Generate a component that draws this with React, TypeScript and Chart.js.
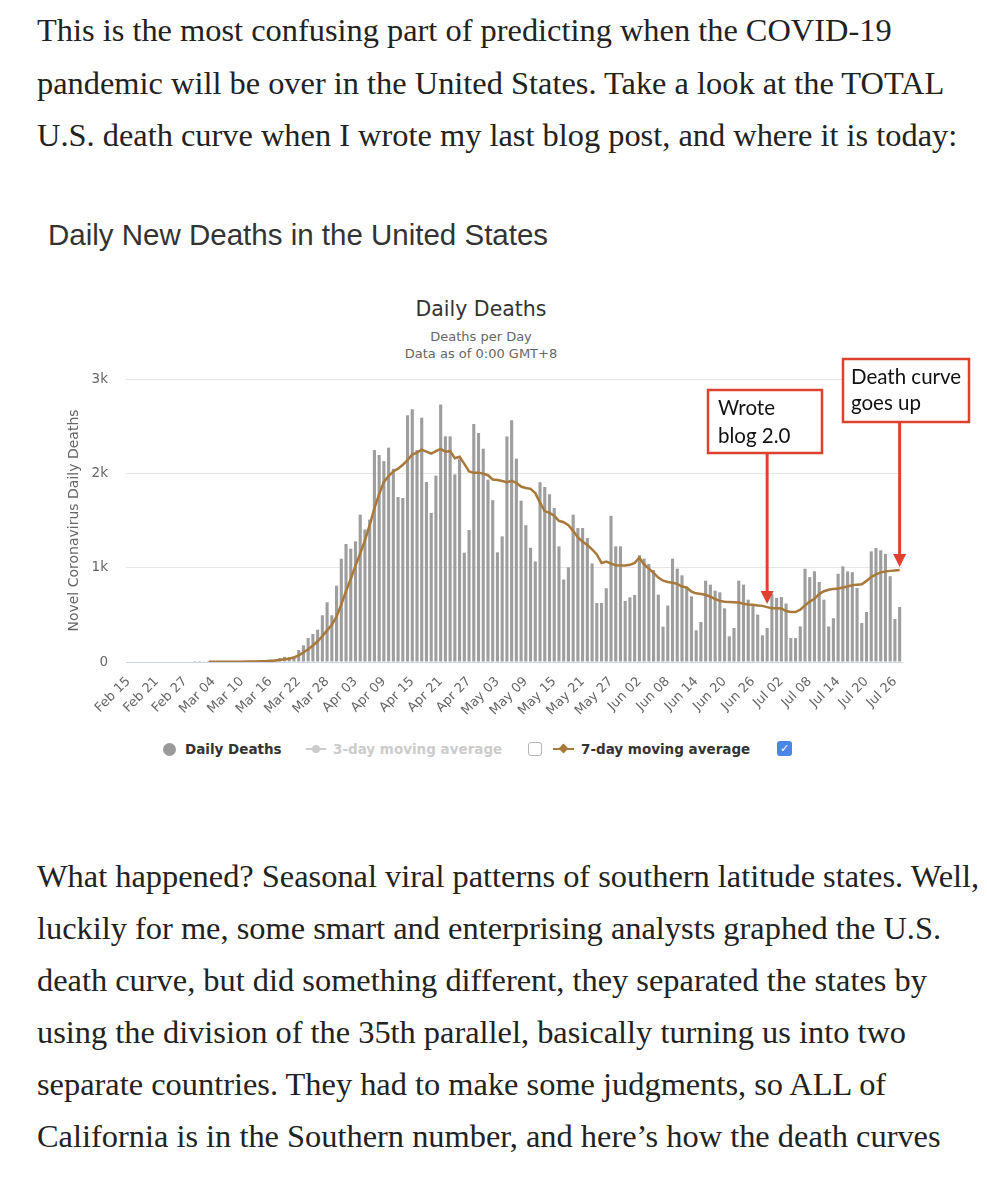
import React, { useEffect, useRef } from "react";
import { Chart, registerables } from "chart.js";

Chart.register(...registerables);

// ---------- DATA ----------
const DATES: string[] = [
  "Feb 15","Feb 16","Feb 17","Feb 18","Feb 19","Feb 20","Feb 21","Feb 22","Feb 23","Feb 24","Feb 25","Feb 26","Feb 27","Feb 28","Feb 29",
  "Mar 01","Mar 02","Mar 03","Mar 04","Mar 05","Mar 06","Mar 07","Mar 08","Mar 09","Mar 10","Mar 11","Mar 12","Mar 13","Mar 14","Mar 15","Mar 16","Mar 17","Mar 18","Mar 19","Mar 20","Mar 21","Mar 22","Mar 23","Mar 24","Mar 25","Mar 26","Mar 27","Mar 28","Mar 29","Mar 30","Mar 31",
  "Apr 01","Apr 02","Apr 03","Apr 04","Apr 05","Apr 06","Apr 07","Apr 08","Apr 09","Apr 10","Apr 11","Apr 12","Apr 13","Apr 14","Apr 15","Apr 16","Apr 17","Apr 18","Apr 19","Apr 20","Apr 21","Apr 22","Apr 23","Apr 24","Apr 25","Apr 26","Apr 27","Apr 28","Apr 29","Apr 30",
  "May 01","May 02","May 03","May 04","May 05","May 06","May 07","May 08","May 09","May 10","May 11","May 12","May 13","May 14","May 15","May 16","May 17","May 18","May 19","May 20","May 21","May 22","May 23","May 24","May 25","May 26","May 27","May 28","May 29","May 30","May 31",
  "Jun 01","Jun 02","Jun 03","Jun 04","Jun 05","Jun 06","Jun 07","Jun 08","Jun 09","Jun 10","Jun 11","Jun 12","Jun 13","Jun 14","Jun 15","Jun 16","Jun 17","Jun 18","Jun 19","Jun 20","Jun 21","Jun 22","Jun 23","Jun 24","Jun 25","Jun 26","Jun 27","Jun 28","Jun 29","Jun 30",
  "Jul 01","Jul 02","Jul 03","Jul 04","Jul 05","Jul 06","Jul 07","Jul 08","Jul 09","Jul 10","Jul 11","Jul 12","Jul 13","Jul 14","Jul 15","Jul 16","Jul 17","Jul 18","Jul 19","Jul 20","Jul 21","Jul 22","Jul 23","Jul 24","Jul 25","Jul 26","Jul 27",
];

const TICK_LABELS: string[] = [
  "Feb 15","Feb 21","Feb 27","Mar 04","Mar 10","Mar 16","Mar 22","Mar 28","Apr 03","Apr 09","Apr 15","Apr 21","Apr 27","May 03",
  "May 09","May 15","May 21","May 27","Jun 02","Jun 08","Jun 14","Jun 20","Jun 26","Jul 02","Jul 08","Jul 14","Jul 20","Jul 26",
];

const Y_TICKS: number[] = [0, 1000, 2000, 3000];
const Y_TICK_LABELS: string[] = ["0", "1k", "2k", "3k"];

const DAILY_DEATHS: number[] = [
  0,0,0,0,0,0,0,0,0,0,0,0,0,0,1,
  1,4,1,4,1,2,3,4,4,6,8,7,10,12,11,23,25,
  42,55,53,60,127,177,254,297,343,495,633,495,809,1095,1251,1201,1279,1562,1405,1509,
  2247,2194,2130,2272,2049,1749,1739,2615,2680,2247,2590,1908,1580,1975,2731,2392,2392,1989,2150,
  1159,1399,2523,2428,2261,1933,1715,1162,1332,2392,2563,2155,1710,1450,1211,1066,1906,1855,1778,1632,
  1226,874,1004,1562,1420,1420,1315,1045,625,625,782,1550,1226,1226,648,685,710,1132,1096,1040,
  975,714,375,598,1096,990,919,784,696,336,424,862,820,756,739,569,272,360,862,820,
  661,608,502,283,360,724,680,688,620,254,254,377,989,900,961,848,661,377,465,936,
  1014,961,952,784,413,530,1173,1208,1184,1146,910,456,583,
];

const AVG_7DAY: (number | null)[] = [
  null,null,null,null,null,null,null,null,null,null,null,null,null,null,null,null,null,
  2,2,2,2,2,3,3,3,4,5,6,8,9,12,15,
  22,28,35,48,70,100,135,175,220,275,335,395,480,610,750,880,1020,1150,1290,1450,
  1630,1780,1910,1970,2020,2050,2090,2140,2200,2220,2250,2230,2210,2235,2260,2230,2235,2160,2175,
  2100,2020,2005,2005,1997,1980,1935,1930,1918,1905,1920,1898,1860,1845,1835,1790,1690,1600,1580,1550,
  1497,1482,1450,1390,1320,1275,1240,1195,1140,1050,1065,1042,1025,1022,1022,1030,1050,1105,1033,990,
  945,895,862,848,840,828,800,790,745,728,720,712,692,668,648,638,636,634,630,618,
  610,606,600,595,582,570,570,568,540,530,530,555,600,640,670,720,750,765,775,780,
  790,800,815,820,825,860,900,930,950,960,966,970,975,
];

const ANNOTATIONS = [
  { lines: ["Wrote", "blog 2.0"], date: "Jun 29" },
  { lines: ["Death curve", "goes up"], date: "Jul 27" },
];

// ---------- LAYOUT (non-data) ----------
const ANN_BOXES = [
  { x: 700, y: 110, w: 114, h: 63, tx: 710, ty: [135, 163] },
  { x: 835, y: 79, w: 126, h: 63, tx: 843, ty: [104, 130] },
];

const P1 = [
  "This is the most confusing part of predicting when the COVID-19",
  "pandemic will be over in the United States. Take a look at the TOTAL",
  "U.S. death curve when I wrote my last blog post, and where it is today:",
];
const P2 = [
  "What happened? Seasonal viral patterns of southern latitude states. Well,",
  "luckily for me, some smart and enterprising analysts graphed the U.S.",
  "death curve, but did something different, they separated the states by",
  "using the division of the 35th parallel, basically turning us into two",
  "separate countries. They had to make some judgments, so ALL of",
  "California is in the Southern number, and here\u2019s how the death curves",
];

const RED = "#e0412f";

const annotationPlugin = {
  id: "blogAnnotations",
  afterDraw(chart: any) {
    const ctx = chart.ctx;
    const xs = chart.scales.x;
    const ys = chart.scales.y;
    ctx.save();
    ANNOTATIONS.forEach((a, k) => {
      const b = ANN_BOXES[k];
      const idx = DATES.indexOf(a.date);
      const px = xs.getPixelForValue(idx);
      const py = ys.getPixelForValue(AVG_7DAY[idx] as number) - 3;
      ctx.fillStyle = "#ffffff";
      ctx.fillRect(b.x, b.y, b.w, b.h);
      ctx.strokeStyle = RED;
      ctx.lineWidth = 2.5;
      ctx.strokeRect(b.x, b.y, b.w, b.h);
      ctx.fillStyle = "#111";
      ctx.font = "20.5px Lato, 'Open Sans', sans-serif";
      ctx.textAlign = "left";
      ctx.textBaseline = "alphabetic";
      a.lines.forEach((t, j) => ctx.fillText(t, b.tx, b.ty[j]));
      ctx.strokeStyle = RED;
      ctx.lineWidth = 3;
      ctx.beginPath();
      ctx.moveTo(px, b.y + b.h);
      ctx.lineTo(px, py - 11);
      ctx.stroke();
      ctx.fillStyle = RED;
      ctx.beginPath();
      ctx.moveTo(px - 6.5, py - 13);
      ctx.lineTo(px + 6.5, py - 13);
      ctx.lineTo(px, py);
      ctx.closePath();
      ctx.fill();
    });
    ctx.restore();
  },
};

function DeathsChart() {
  const ref = useRef<HTMLCanvasElement | null>(null);
  useEffect(() => {
    if (!ref.current) return;
    const chart = new Chart(ref.current, {
      type: "bar",
      data: {
        labels: DATES,
        datasets: [
          {
            type: "line",
            label: "7-day moving average",
            data: AVG_7DAY,
            borderColor: "#a8793a",
            borderWidth: 2.5,
            pointRadius: 0,
            tension: 0,
            order: 0,
          } as any,
          {
            type: "bar",
            label: "Daily Deaths",
            data: DAILY_DEATHS,
            backgroundColor: "#9e9e9e",
            barPercentage: 0.66,
            categoryPercentage: 1,
            order: 1,
          },
        ],
      },
      options: {
        animation: false,
        responsive: false,
        devicePixelRatio: 1,
        layout: { padding: { left: 53, top: 99, right: 77, bottom: 0 } },
        plugins: {
          legend: { display: false },
          tooltip: { enabled: false },
          title: { display: false },
        },
        scales: {
          x: {
            type: "category",
            grid: { display: false, drawTicks: false },
            border: { display: true, color: "#ccd6eb", width: 1 },
            ticks: {
              autoSkip: false,
              minRotation: 45,
              maxRotation: 45,
              padding: 12,
              color: "#666",
              font: { family: "DejaVu Sans", size: 13 },
              callback: (_v: any, i: number) => (TICK_LABELS.includes(DATES[i]) ? DATES[i] : ""),
            },
            afterFit: (s: any) => {
              s.height = 58;
            },
          },
          y: {
            min: 0,
            max: 3000,
            afterBuildTicks: (s: any) => {
              s.ticks = Y_TICKS.map((v) => ({ value: v }));
            },
            grid: { color: "#e6e6e6", drawTicks: false },
            border: { display: false },
            ticks: {
              padding: 18,
              color: "#666",
              font: { family: "DejaVu Sans", size: 13.5 },
              callback: (v: any) => Y_TICK_LABELS[Y_TICKS.indexOf(Number(v))] ?? "",
            },
            title: {
              display: true,
              text: "Novel Coronavirus Daily Deaths",
              color: "#666",
              font: { family: "DejaVu Sans", size: 14 },
              padding: { top: 5, bottom: 4 },
            },
            afterFit: (s: any) => {
              s.width = 65;
            },
          },
        },
      },
      plugins: [annotationPlugin],
    });
    return () => chart.destroy();
  }, []);
  return <canvas ref={ref} width={971} height={440} style={{ position: "absolute", left: 0, top: 272 }} />;
}

const serif: React.CSSProperties = {
  position: "absolute",
  left: 29,
  whiteSpace: "nowrap",
  fontFamily: "'Liberation Serif', 'Times New Roman', serif",
  fontSize: 32.4,
  lineHeight: "52px",
  color: "#222",
};

const legendText: React.CSSProperties = {
  position: "absolute",
  top: 731,
  whiteSpace: "nowrap",
  fontFamily: "'DejaVu Sans', sans-serif",
  fontWeight: "bold",
  fontSize: 13.5,
  lineHeight: "20px",
};

export default function App() {
  return (
    <div style={{ position: "relative", width: 971, height: 1192, overflow: "hidden", background: "#fff" }}>
      {P1.map((t, i) => (
        <div key={"p1" + i} style={{ ...serif, top: -4 + i * 52.5 }}>{t}</div>
      ))}
      <div
        style={{
          position: "absolute",
          left: 40,
          top: 210,
          whiteSpace: "nowrap",
          fontFamily: "'Liberation Sans', Arial, sans-serif",
          fontSize: 29.5,
          lineHeight: "34px",
          color: "#333",
        }}
      >
        Daily New Deaths in the United States
      </div>
      <div
        style={{
          position: "absolute",
          left: 273,
          width: 400,
          top: 289,
          textAlign: "center",
          fontFamily: "'DejaVu Sans', sans-serif",
          fontSize: 20.5,
          lineHeight: "24px",
          color: "#333",
        }}
      >
        Daily Deaths
      </div>
      <div
        style={{
          position: "absolute",
          left: 273,
          width: 400,
          top: 320,
          textAlign: "center",
          fontFamily: "'DejaVu Sans', sans-serif",
          fontSize: 13,
          lineHeight: "17px",
          color: "#666",
        }}
      >
        <div>Deaths per Day</div>
        <div>Data as of 0:00 GMT+8</div>
      </div>
      <DeathsChart />
      {/* legend */}
      <div style={{ position: "absolute", left: 154.5, top: 734.5, width: 13, height: 13, borderRadius: "50%", background: "#9a9a9a" }} />
      <div style={{ ...legendText, left: 177, color: "#333" }}>Daily Deaths</div>
      <div style={{ position: "absolute", left: 298, top: 740, width: 20, height: 2, background: "#cccccc" }} />
      <div style={{ position: "absolute", left: 304, top: 737, width: 8, height: 8, borderRadius: "50%", background: "#cccccc" }} />
      <div style={{ ...legendText, left: 325, color: "#cccccc" }}>3-day moving average</div>
      <div style={{ position: "absolute", left: 520, top: 734, width: 12, height: 12, border: "1px solid #b5b5b5", borderRadius: 3, background: "#fff" }} />
      <div style={{ position: "absolute", left: 545, top: 740, width: 21, height: 2, background: "#a8793a" }} />
      <div style={{ position: "absolute", left: 552, top: 737, width: 7, height: 7, background: "#a8793a", transform: "rotate(45deg)" }} />
      <div style={{ ...legendText, left: 573, color: "#333" }}>7-day moving average</div>
      <div
        style={{
          position: "absolute",
          left: 769,
          top: 733,
          width: 15,
          height: 15,
          borderRadius: 3,
          background: "#4a86e8",
          color: "#fff",
          fontSize: 11,
          lineHeight: "15px",
          textAlign: "center",
          fontFamily: "'DejaVu Sans', sans-serif",
        }}
      >
        ✓
      </div>
      {P2.map((t, i) => (
        <div key={"p2" + i} style={{ ...serif, top: 842 + i * 52 }}>{t}</div>
      ))}
    </div>
  );
}
